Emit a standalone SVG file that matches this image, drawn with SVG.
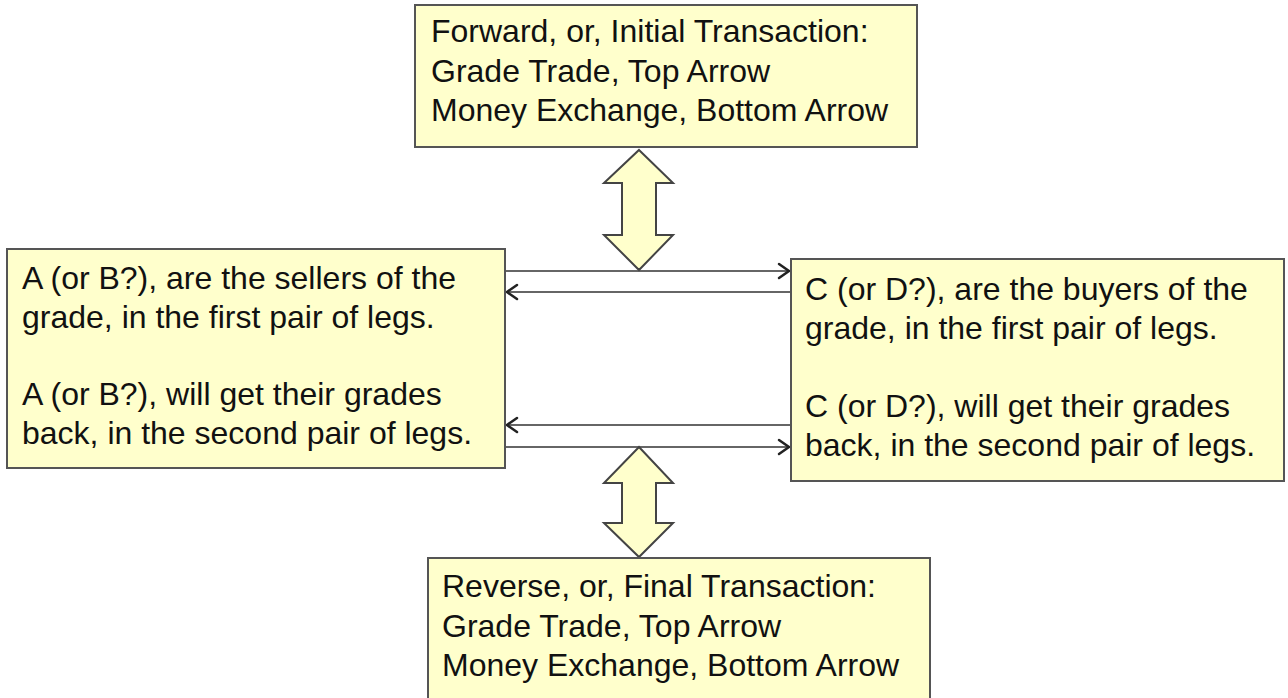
<svg xmlns="http://www.w3.org/2000/svg" width="1288" height="698" viewBox="0 0 1288 698">
<defs>
<style>
.box{fill:#ffffcc;stroke:#555555;stroke-width:2}
.t{font-family:"Liberation Sans",Arial,sans-serif;font-size:32px;fill:#111111}
.dbl{fill:#ffffcc;stroke:#444444;stroke-width:2;stroke-linejoin:miter}
.conn{stroke:#666666;stroke-width:2;fill:none}
.head{stroke:#222222;stroke-width:2.5;fill:none;stroke-linecap:round;stroke-linejoin:miter}
</style>
</defs>
<rect width="1288" height="698" fill="#ffffff"/>
<g id="connectors">
<line class="conn" x1="506" y1="271" x2="789" y2="271"/>
<polyline class="head" points="779,264 789,271 779,278"/>
<line class="conn" x1="507" y1="292" x2="791" y2="292"/>
<polyline class="head" points="517,285 507,292 517,299"/>
<line class="conn" x1="507" y1="425" x2="791" y2="425"/>
<polyline class="head" points="517,418 507,425 517,432"/>
<line class="conn" x1="506" y1="447" x2="789" y2="447"/>
<polyline class="head" points="779,440 789,447 779,454"/>
<polygon id="arrow-top" class="dbl" points="639,150 673,183 656,183 656,235 673,235 639,270 604,235 622,235 622,183 604,183"/>
<polygon id="arrow-bottom" class="dbl" points="639,447 673,483 656,483 656,523 673,523 639,557 604,523 622,523 622,483 604,483"/>
</g>
<g id="node-forward">
<rect class="box" x="415" y="5" width="502" height="142"/>
<text class="t" x="431" y="42">Forward, or, Initial Transaction:</text>
<text class="t" x="431" y="82">Grade Trade, Top Arrow</text>
<text class="t" x="431" y="121">Money Exchange, Bottom Arrow</text>
</g>
<g id="node-sellers">
<rect class="box" x="7" y="249" width="498" height="219"/>
<text class="t" x="22" y="289">A (or B?), are the sellers of the</text>
<text class="t" x="22" y="328">grade, in the first pair of legs.</text>
<text class="t" x="22" y="405">A (or B?), will get their grades</text>
<text class="t" x="22" y="444">back, in the second pair of legs.</text>
</g>
<g id="node-buyers">
<rect class="box" x="791" y="259" width="493" height="222"/>
<text class="t" x="805" y="300">C (or D?), are the buyers of the</text>
<text class="t" x="805" y="339">grade, in the first pair of legs.</text>
<text class="t" x="805" y="417">C (or D?), will get their grades</text>
<text class="t" x="805" y="456">back, in the second pair of legs.</text>
</g>
<g id="node-reverse">
<rect class="box" x="428" y="558" width="502" height="145"/>
<text class="t" x="442" y="597">Reverse, or, Final Transaction:</text>
<text class="t" x="442" y="637">Grade Trade, Top Arrow</text>
<text class="t" x="442" y="676">Money Exchange, Bottom Arrow</text>
</g>
</svg>
